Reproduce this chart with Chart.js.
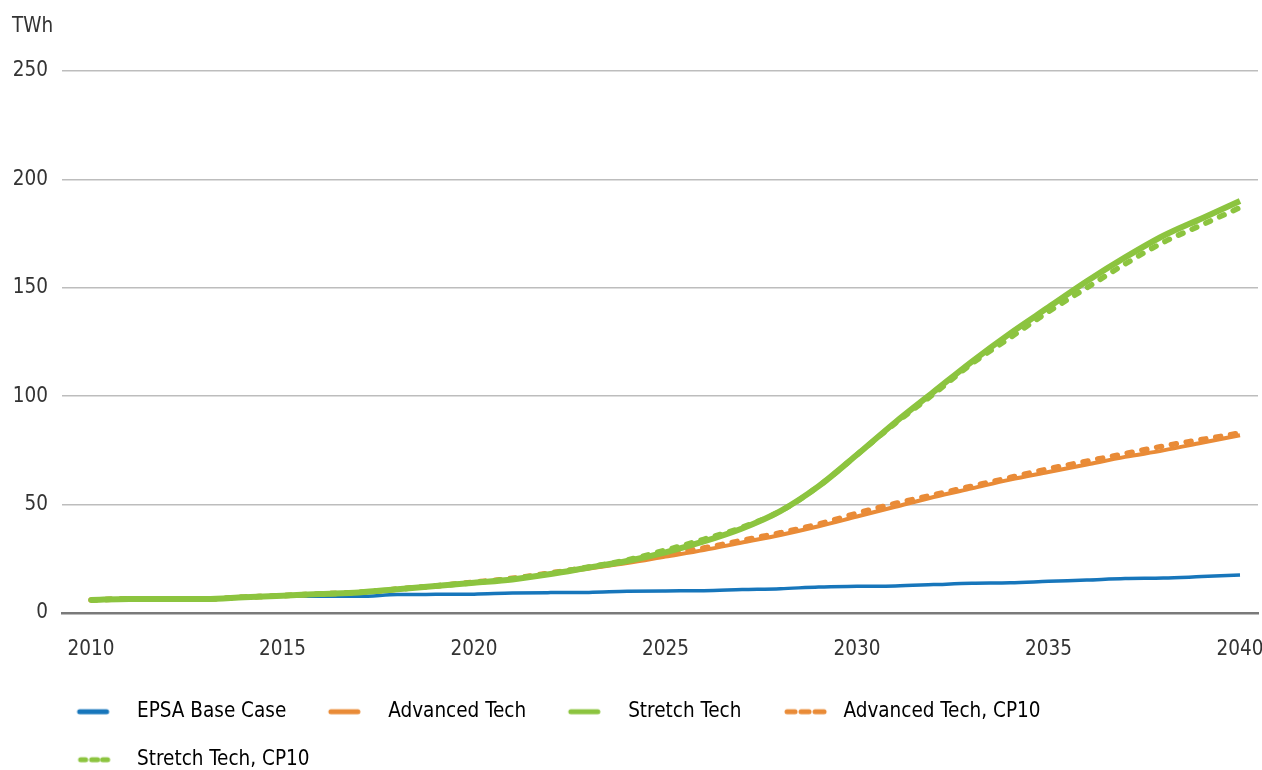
<!DOCTYPE html>
<html>
<head>
<meta charset="utf-8">
<script src="https://cdn.jsdelivr.net/npm/chart.js@4/dist/chart.umd.min.js"></script>
<style>
  html, body { margin: 0; padding: 0; background: #fff; overflow: hidden; }
  #wrap { width: 1262px; height: 770px; }
</style>
</head>
<body>
<div id="wrap"><canvas id="chart"></canvas></div>
<script>
const years = [2010, 2011, 2012, 2013, 2014, 2015, 2016, 2017, 2018, 2019, 2020,
  2021, 2022, 2023, 2024, 2025, 2026, 2027, 2028, 2029, 2030,
  2031, 2032, 2033, 2034, 2035, 2036, 2037, 2038, 2039, 2040];

const baseCase = [6, 6.5, 6.5, 6.5, 7.3, 8, 7.7, 7.7, 8.5, 8.6, 8.7,
  9.2, 9.4, 9.5, 10, 10.2, 10.3, 10.8, 11.2, 12, 12.3,
  12.5, 13.1, 13.7, 13.9, 14.6, 15.2, 15.9, 16.1, 16.8, 17.5];

const advancedTech = [6, 6.5, 6.5, 6.5, 7.3, 8, 8.8, 9.5, 11, 12.5, 14,
  15.5, 18, 20.5, 23, 26, 29, 32.5, 36, 40, 44.5,
  49, 53.5, 57.5, 61.5, 65, 68.5, 72, 75, 78.5, 82];

const stretchTech = [6, 6.5, 6.5, 6.5, 7.3, 8, 8.8, 9.5, 11, 12.5, 14,
  15.5, 18, 21, 24, 28, 33, 39, 47, 58.5, 73,
  88, 102, 116, 129, 141, 153, 164, 174, 182, 190];

const advancedCP10 = [6, 6.5, 6.5, 6.5, 7.3, 8, 8.8, 9.5, 11, 12.5, 14.2,
  16, 18.5, 21, 24, 27, 30, 33.5, 37, 41, 46,
  50.5, 54.5, 58.5, 62.5, 66.5, 70, 73.5, 77, 80, 83];

const stretchCP10 = [6, 6.5, 6.5, 6.5, 7.3, 8, 8.8, 9.5, 11, 12.5, 14,
  15.8, 18.3, 21.2, 24.5, 29, 34, 39.5, 47, 58.5, 73,
  87.5, 101, 115, 127, 139, 150, 161, 171, 179, 187];

const seriesNames = ['EPSA Base Case', 'Advanced Tech', 'Stretch Tech', 'Advanced Tech, CP10', 'Stretch Tech, CP10'];
const xTicks = [2010, 2015, 2020, 2025, 2030, 2035, 2040];
const yTicks = [0, 50, 100, 150, 200, 250];

const BLUE = '#1776bb';
const ORANGE = '#e98b37';
const GREEN = '#8cc43f';
const FONT = "'Liberation Sans Narrow', 'DejaVu Sans Condensed', sans-serif";
const FSIZE = 20.5;

function pts(vals) {
    return years.map((yr, i) => ({ x: yr, y: vals[i] }));
}

// small canvases used as legend symbols
function legendIcon(color, dashed, dotty) {
    const c = document.createElement('canvas');
    c.width = 66;
    c.height = 10;
    const g = c.getContext('2d');
    g.strokeStyle = color;
    g.lineCap = 'round';
    g.lineWidth = 5;
    if (!dashed) {
        g.beginPath();
        g.moveTo(18, 5);
        g.lineTo(45, 5);
        g.stroke();
    } else {
        const segs = dotty ? [[19, 24], [30, 36], [41, 46]] : [[19, 27], [33, 41], [47, 56]];
        segs.forEach(s => {
            g.beginPath();
            g.moveTo(s[0], 5);
            g.lineTo(s[1], 5);
            g.stroke();
        });
    }
    return c;
}

const icons = [
    legendIcon(BLUE, false),
    legendIcon(ORANGE, false),
    legendIcon(GREEN, false),
    legendIcon(ORANGE, true, false),
    legendIcon(GREEN, true, true)
];

// unit label above the y axis, legend nudged to line up under the plot
const unitLabel = {
    id: 'unitLabel',
    beforeDraw(chart) {
        if (chart.legend) chart.legend.left = 35;
    },
    afterDraw(chart) {
        const ctx = chart.ctx;
        ctx.save();
        ctx.font = FSIZE + 'px ' + FONT;
        ctx.fillStyle = '#333333';
        ctx.textBaseline = 'middle';
        ctx.textAlign = 'left';
        ctx.fillText('TWh', chart.chartArea.left - 50, 27);
        ctx.restore();
    }
};

new Chart(
    document.getElementById('chart'),
    {
        type: 'line',
        data: {
            datasets: [
                {
                    label: seriesNames[0],
                    data: pts(baseCase),
                    borderColor: BLUE,
                    borderWidth: 3.5,
                    order: 5
                },
                {
                    label: seriesNames[1],
                    data: pts(advancedTech),
                    borderColor: ORANGE,
                    borderWidth: 4,
                    order: 4
                },
                {
                    label: seriesNames[2],
                    data: pts(stretchTech),
                    borderColor: GREEN,
                    borderWidth: 6,
                    order: 1
                },
                {
                    label: seriesNames[3],
                    data: pts(advancedCP10),
                    borderColor: ORANGE,
                    borderWidth: 5.5,
                    borderDash: [5, 10],
                    borderCapStyle: 'round',
                    order: 3
                },
                {
                    label: seriesNames[4],
                    data: pts(stretchCP10),
                    borderColor: GREEN,
                    borderWidth: 5.5,
                    borderDash: [5, 10],
                    borderCapStyle: 'round',
                    order: 2
                }
            ]
        },
        options: {
            responsive: true,
            maintainAspectRatio: false,
            animation: false,
            layout: {
                padding: { left: 0, right: 4, top: 71, bottom: -10 }
            },
            elements: {
                point: { radius: 0 },
                line: { cubicInterpolationMode: 'monotone', borderJoinStyle: 'round' }
            },
            plugins: {
                tooltip: { enabled: false },
                legend: {
                    position: 'bottom',
                    align: 'start',
                    labels: {
                        usePointStyle: true,
                        pointStyleWidth: 64.25,
                        padding: 27.5,
                        color: '#333333',
                        font: { family: FONT, size: FSIZE },
                        generateLabels: chart => chart.data.datasets.map((ds, i) => ({
                            text: ds.label,
                            pointStyle: icons[i],
                            fillStyle: ds.borderColor,
                            strokeStyle: ds.borderColor,
                            lineWidth: 0,
                            hidden: false,
                            datasetIndex: i
                        }))
                    }
                }
            },
            scales: {
                x: {
                    type: 'linear',
                    min: 2009.243,
                    max: 2040.47,
                    afterBuildTicks: scale => {
                        scale.ticks = xTicks.map(v => ({ value: v }));
                    },
                    afterFit: scale => {
                        scale.height = 61;
                        scale.paddingLeft = 0;
                        scale.paddingRight = 0;
                    },
                    grid: { display: false, drawTicks: false },
                    border: { display: true, color: '#7a7a7a', width: 2.5 },
                    ticks: {
                        padding: 24,
                        color: '#333333',
                        font: { family: FONT, size: FSIZE },
                        maxRotation: 0,
                        callback: value => String(value)
                    }
                },
                y: {
                    min: 0,
                    max: 250,
                    afterBuildTicks: scale => {
                        scale.ticks = yTicks.map(v => ({ value: v }));
                    },
                    afterFit: scale => {
                        scale.width = 62;
                        scale.paddingTop = 0;
                        scale.paddingBottom = 0;
                    },
                    grid: {
                        drawTicks: false,
                        color: ctx => ctx.tick && ctx.tick.value === 0 ? 'rgba(0,0,0,0)' : '#bdbdbd',
                        lineWidth: 1.5
                    },
                    border: { display: false },
                    ticks: {
                        padding: 14,
                        color: '#333333',
                        font: { family: FONT, size: FSIZE },
                        callback: value => String(value)
                    }
                }
            }
        },
        plugins: [unitLabel]
    }
);
</script>
</body>
</html>
